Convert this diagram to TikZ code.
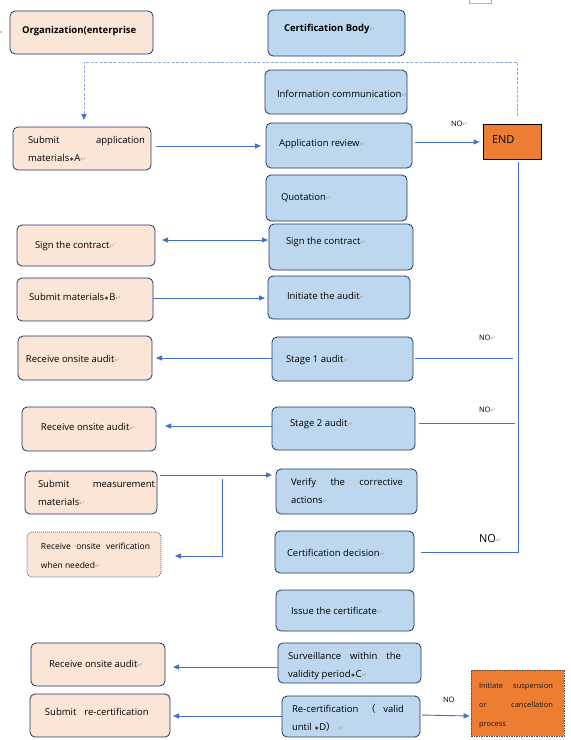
\documentclass[tikz,border=0pt]{standalone}
\usepackage{fontspec}
\setmainfont{Open Sans}
\newfontfamily\dvs{DejaVu Sans}
\newfontfamily\cjkf{Noto Sans CJK SC}
\usetikzlibrary{arrows.meta}
\definecolor{peach}{HTML}{FBE5D6}
\definecolor{lblue}{HTML}{BDD7EE}
\definecolor{navy}{HTML}{1F3864}
\definecolor{abl}{HTML}{4472C4}
\definecolor{dashbl}{HTML}{8FAADC}
\definecolor{orng}{HTML}{ED7D31}
\definecolor{pmgray}{HTML}{A6A6A6}
\newcommand\pmk{{\dvs\fontsize{6.5}{6.5}\selectfont\textcolor{pmgray}{↵}}}
\newcommand\stk{{\dvs\fontsize{6}{6}\selectfont ∗}}
\newcommand\mybox[6]{\node[#1, minimum width={(#4)-(#2)}, minimum height={(#5)-(#3)}] (#6) at ({((#2)+(#4))/2},{((#3)+(#5))/2}) {};}
\tikzset{
  box/.style={draw=navy, line width=0.8pt, rounded corners=5pt, inner sep=0pt, outer sep=0pt},
  pbox/.style={box, fill=peach},
  bbox/.style={box, fill=lblue},
  txt/.style={inner sep=0pt, outer sep=0pt, anchor=base west, font=\fontsize{9.5}{18}\selectfont, align=left, text=black},
  smalltxt/.style={txt, font=\fontsize{8.5}{19}\selectfont},
  tinytxt/.style={txt, font=\fontsize{7.5}{19}\selectfont, text=black!90},
  nolbl/.style={txt, font=\fontsize{7.5}{8}\selectfont},
  biglbl/.style={txt, font=\fontsize{11}{12}\selectfont},
  tipx/.tip={Triangle[length=6pt,width=5pt,color=abl]},
  arr/.style={draw=abl, line width=0.9pt, -tipx},
  ln/.style={draw=abl, line width=0.9pt},
  dsh/.style={draw=dashbl, line width=0.8pt, dash pattern=on 3pt off 1.5pt, -tipx},
}
\begin{document}
\begin{tikzpicture}[x=1pt, y=-1pt]
\fill[white] (0,0) rectangle (571,740);
\useasboundingbox (0,0) rectangle (571,740);
% small fragments
\draw[gray!60, line width=0.5pt] (469,0) -- (469,3) -- (491,3) -- (491,0);
\fill[gray!50] (0,31) rectangle (2,33);
% left column
\mybox{pbox}{10}{11}{153}{54}{org}
\mybox{pbox}{13}{127}{151}{170}{subapp}
\mybox{pbox}{17}{225}{155}{266}{signL}
\mybox{pbox}{17}{278}{153}{321}{subB}
\mybox{pbox}{18}{336}{152}{380}{recv1}
\mybox{pbox}{22}{407}{156}{451}{recv2}
\mybox{pbox}{25}{471}{157}{514}{meas}
\mybox{pbox, draw=navy!85, line width=0.7pt, dash pattern=on 1pt off 1pt}{27}{532}{161}{577}{recvver}
\mybox{pbox}{31}{643}{165}{686}{recv3}
\mybox{pbox}{30}{694}{170}{737}{subre}
% right column
\mybox{bbox}{268}{10}{405}{56}{cb}
\mybox{bbox}{265}{70}{407}{114}{info}
\mybox{bbox}{266}{123}{412}{168}{apprev}
\mybox{bbox}{266}{175}{407}{221}{quot}
\mybox{bbox}{269}{224}{413}{270}{signR}
\mybox{bbox}{268}{276}{410}{319}{init}
\mybox{bbox}{272}{337}{413}{381}{st1}
\mybox{bbox}{272}{407}{415}{450}{st2}
\mybox{bbox}{276}{469}{417}{514}{ver}
\mybox{bbox}{275}{531}{414}{573}{dec}
\mybox{bbox}{276}{590}{414}{631}{issue}
\mybox{bbox}{278}{643}{421}{683}{surv}
\mybox{bbox}{282}{696}{420}{737}{recert}
% END and suspension
\node[fill=orng, draw=black, line width=0.9pt, inner sep=0pt, minimum width=58, minimum height=35] (END) at (512,141.5) {};
\node[fill=orng, draw=black!70, line width=0.7pt, dash pattern=on 1.5pt off 1pt, inner sep=0pt, minimum width=93, minimum height=66] (susp) at (517.5,703) {};
% texts
\node[txt, font=\fontsize{9.5}{18}\selectfont\bfseries] (org-t) at (22,33) {Organization(enterprise};
\node[txt, font=\fontsize{9.5}{18}\selectfont\bfseries] (cb-t) at (284,31) {Certification Body\pmk};
\node[txt] (info-t) at (277,97) {Information communication\pmk};
\node[txt] (subapp-t) at (28,161) {\makebox[117pt][s]{Submit application}\\materials\stk A\pmk};
\node[txt] (apprev-t) at (279,146) {Application review\pmk};
\node[biglbl] (END-t) at (492,143) {END\pmk};
\node[txt] (quot-t) at (281,200) {Quotation\pmk};
\node[txt] (signL-t) at (35,248) {Sign the contract\pmk};
\node[txt] (signR-t) at (286,244) {Sign the contract\pmk};
\node[txt] (subB-t) at (29,300) {Submit materials\stk B\pmk};
\node[txt] (init-t) at (287,299) {Initiate the audit\pmk};
\node[txt] (recv1-t) at (26,362) {Receive onsite audit\pmk};
\node[txt] (st1-t) at (286,362) {Stage 1 audit\pmk};
\node[txt] (recv2-t) at (41,430) {Receive onsite audit\pmk};
\node[txt] (st2-t) at (290,426) {Stage 2 audit\pmk};
\node[txt] (meas-t) at (38,505) {\makebox[117pt][s]{Submit measurement}\\materials\pmk};
\node[txt] (ver-t) at (291,503) {\makebox[112pt][s]{Verify the corrective}\\actions\pmk};
\node[smalltxt] (recvver-t) at (41,568) {\makebox[109pt][s]{Receive onsite verification}\\when needed\pmk};
\node[txt] (dec-t) at (287,556) {Certification decision\pmk};
\node[txt] (issue-t) at (291,614) {Issue the certificate\pmk};
\node[txt] (surv-t) at (288,677) {\makebox[113pt][s]{Surveillance within the}\\validity period\stk C\pmk};
\node[txt] (recert-t) at (292,730) {\makebox[112pt][s]{Re-certification {\cjkf （} valid}\\until \stk D{\cjkf ）} \pmk};
\node[txt] (recv3-t) at (49,667) {Receive onsite audit\pmk};
\node[txt] (subre-t) at (45,715) {Submit\hspace{8pt}re-certification};
\node[tinytxt] (susp-t) at (479,726) {\makebox[74pt][s]{Initiate suspension}\\\makebox[74pt][s]{or cancellation}\\process\pmk};
% NO labels
\node[nolbl] (no1) at (451,126) {NO\pmk};
\node[nolbl] (no2) at (479,340) {NO\pmk};
\node[nolbl] (no3) at (479,412) {NO\pmk};
\node[biglbl] (no4) at (479,542) {NO\pmk};
\node[nolbl] (no5) at (443,702) {NO};
% connectors
\draw[dsh, shorten <=8pt, shorten >=7pt] (517,0 |- END.north) |- (84,62) -- (subapp.north -| 84,0);
\draw[arr, shorten <=5pt, shorten >=5pt] (subapp.east |- 0,146) -- (apprev.west |- 0,146);
\draw[arr, shorten <=3pt, shorten >=3pt] (apprev.east |- 0,142) -- (END.west |- 0,142);
\draw[ln, tipx-tipx, shorten <=7pt, shorten >=1pt] (signL.east |- 0,240) -- (signR.west |- 0,240);
\draw[arr, shorten >=3pt] (subB.east |- 0,298) -- (init.west |- 0,298);
\draw[arr, shorten >=4pt] (st1.west |- 0,358) -- (recv1.east |- 0,358);
\draw[arr, shorten >=9pt] (st2.west |- 0,426) -- (recv2.east |- 0,426);
\coordinate (e1) at (513,358);
\coordinate (e2) at (515,423);
\draw[ln, shorten <=2pt] (st1.east |- 0,358) -- (e1);
\draw[ln, shorten <=4pt] (st2.east |- 0,423) -- (e2);
\draw[ln, shorten <=7pt, shorten >=3pt] (dec.east |- 0,552) -| (518,0 |- END.south);
\draw[arr, shorten <=3pt, shorten >=4pt] (meas.east |- 0,475) -- (ver.west |- 0,475);
\coordinate (br) at (222,479);
\draw[arr, shorten >=14pt] (br) |- (recvver.east |- 0,556);
\draw[arr, shorten >=8pt] (surv.west |- 0,667) -- (recv3.east |- 0,667);
\draw[arr, shorten >=3pt] (recert.west |- 0,716) -- (subre.east |- 0,716);
\draw[arr, shorten <=2pt, shorten >=1pt] (recert.east |- 0,715) -- (susp.west |- 0,716);
\end{tikzpicture}
\end{document}
